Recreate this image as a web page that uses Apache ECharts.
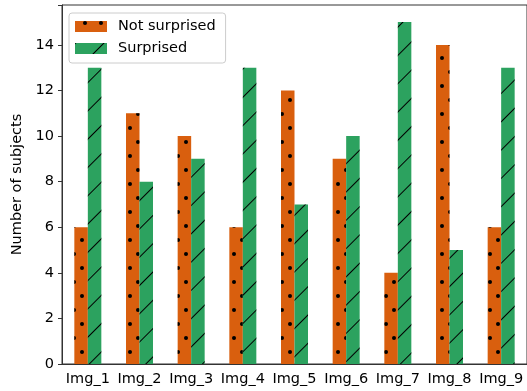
<!DOCTYPE html>
<html><head><meta charset="utf-8">
<script src="https://cdn.jsdelivr.net/npm/echarts@6/dist/echarts.min.js"></script>
<style>html,body{margin:0;padding:0;background:#fff}#c{width:527px;height:391px}</style>
</head><body><div id="c"></div>
<script>
const categories = ['Img_1','Img_2','Img_3','Img_4','Img_5','Img_6','Img_7','Img_8','Img_9'];
const notSurprised = [6, 11, 10, 6, 12, 9, 4, 14, 6];
const surprised = [13, 8, 9, 13, 7, 10, 15, 5, 13];
const yTicks = [0, 2, 4, 6, 8, 10, 12, 14];

const FONT = 'DejaVu Sans';
const FS = 14.5;
const chart = echarts.init(document.getElementById('c'), null, {renderer: 'canvas'});
const dotDecal = {
  symbol: 'circle', color: '#000', symbolSize: 1,
  dashArrayX: [[4, 12], [0, 8, 4, 4]],
  dashArrayY: [4, 10],
  rotation: 0
};
const slashDecal = {
  symbol: 'rect', color: '#000', symbolSize: 1,
  dashArrayX: [1, 0],
  dashArrayY: [1, 19],
  rotation: -Math.PI / 4
};
chart.setOption({
  animation: false,
  textStyle: {fontFamily: FONT},
  grid: {left: 62, top: 5, width: 466, height: 359, show: true, borderColor: '#333', borderWidth: 1, backgroundColor: 'transparent'},
  legend: {
    orient: 'vertical', left: 69, top: 13,
    icon: 'rect',
    itemWidth: 32, itemHeight: 11, itemGap: 5,
    padding: [5, 10, 6, 6],
    backgroundColor: '#fff', borderColor: '#ccc', borderWidth: 1, borderRadius: 3,
    textStyle: {fontFamily: FONT, fontSize: FS, color: '#000', lineHeight: 17, padding: [0, 0, 0, 6]},
    data: ['Not surprised', 'Surprised']
  },
  xAxis: {
    type: 'category', data: categories, boundaryGap: true,
    axisLine: {lineStyle: {color: '#333'}},
    axisTick: {alignWithLabel: true, length: 4, lineStyle: {color: '#333'}},
    axisLabel: {fontFamily: FONT, fontSize: FS, color: '#000', margin: 8, interval: 0, hideOverlap: false}
  },
  yAxis: {
    type: 'value', min: 0, max: 15.75, interval: 2,
    name: 'Number of subjects', nameLocation: 'middle', nameGap: 25,
    nameTextStyle: {fontFamily: FONT, fontSize: FS, color: '#000'},
    axisLine: {show: true, lineStyle: {color: '#333'}},
    axisTick: {show: true, length: 4, lineStyle: {color: '#333'}},
    splitLine: {show: false},
    axisLabel: {fontFamily: FONT, fontSize: FS, color: '#000', margin: 8,
      formatter: v => yTicks.includes(v) ? String(v) : ''}
  },
  series: [
    {name: 'Not surprised', type: 'bar', data: notSurprised, barWidth: 13.5, barGap: '0%',
     itemStyle: {color: '#d95f0e', borderWidth: 0, decal: dotDecal}},
    {name: 'Surprised', type: 'bar', data: surprised, barWidth: 13.5, barGap: '0%',
     itemStyle: {color: '#2ca25f', borderWidth: 0, decal: slashDecal}}
  ]
});
</script></body></html>
